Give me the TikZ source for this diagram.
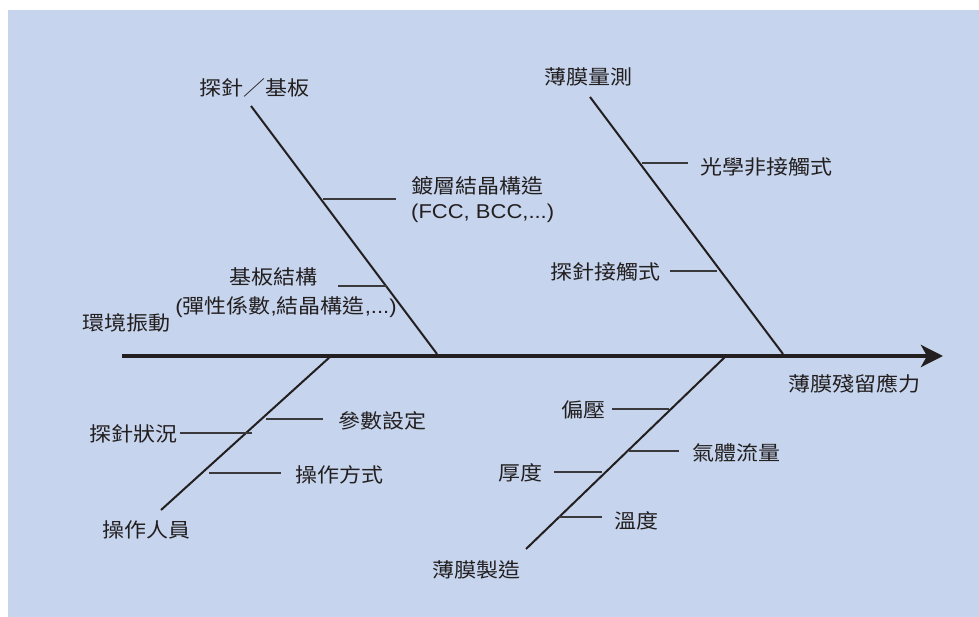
\documentclass[tikz,border=0pt]{standalone}
\usepackage{fontspec}
\newfontfamily\cjk[FakeStretch=1.1]{Noto Sans CJK TC}
\newfontfamily\latn[FakeStretch=1.1]{Liberation Sans}
\usetikzlibrary{arrows.meta}
\definecolor{bg}{HTML}{C6D5ED}
\definecolor{ink}{HTML}{231F20}
\definecolor{twig}{HTML}{3A3A3C}
\tikzset{
  lbl/.style={inner sep=0pt, text=ink, font=\cjk\fontsize{20}{27}\selectfont},
  bone/.style={draw=ink, line width=2pt},
  twigline/.style={draw=twig, line width=1.6pt},
  spine/.style={draw=ink, line width=4.5pt, -{Stealth[length=22pt,width=22pt,inset=6pt]}}
}
\begin{document}
\begin{tikzpicture}[x=1pt,y=-1pt]
\useasboundingbox (0,0) rectangle (979,617);
\fill[bg] (8,10) rectangle (979,617);

% spine
\coordinate (sp0) at (122,356);
\coordinate (sp1) at (943,356);
\draw[spine] (sp0) -- (sp1);
\node[lbl] (effect) at (854,384) {薄膜殘留應力};

% bone 1: probe / substrate
\node[lbl] (c1) at (254,88) {探針／基板};
\coordinate (b1a) at (251,106);
\coordinate (b1b) at (437,354);
\draw[bone] (b1a) -- (b1b);
\coordinate (s1a) at (323,199); \coordinate (s1b) at (396,199);
\draw[twigline] (s1a) -- (s1b);
\node[lbl, anchor=west] (t1a) at (411,186) {鍍層結晶構造};
\node[lbl, anchor=west, font=\latn\fontsize{20}{27}\selectfont] (t1b) at (411,213) {(FCC, BCC,...)};
\coordinate (s2a) at (338,286); \coordinate (s2b) at (387,286);
\draw[twigline] (s2a) -- (s2b);
\node[lbl] (t2a) at (273,277) {基板結構};
\node[lbl] (t2b) at (286,307) {{\latn(}彈性係數{\latn,}結晶構造{\latn,...)}};
\node[lbl] (t3) at (126,323) {環境振動};

% bone 2: film measurement
\node[lbl] (c2) at (588,77) {薄膜量測};
\coordinate (b2a) at (590,97);
\coordinate (b2b) at (783,354);
\draw[bone] (b2a) -- (b2b);
\coordinate (s3a) at (642,163); \coordinate (s3b) at (688,163);
\draw[twigline] (s3a) -- (s3b);
\node[lbl] (t4) at (766,167) {光學非接觸式};
\coordinate (s4a) at (670,271); \coordinate (s4b) at (717,271);
\draw[twigline] (s4a) -- (s4b);
\node[lbl] (t5) at (605,272) {探針接觸式};

% bone 3: operator
\node[lbl] (c3) at (146,530) {操作人員};
\coordinate (b3a) at (331,356);
\coordinate (b3b) at (161,510);
\draw[bone] (b3a) -- (b3b);
\coordinate (s5a) at (266,419); \coordinate (s5b) at (323,419);
\draw[twigline] (s5a) -- (s5b);
\node[lbl] (t6) at (382,421) {參數設定};
\coordinate (s6a) at (180,433); \coordinate (s6b) at (252,433);
\draw[twigline] (s6a) -- (s6b);
\node[lbl] (t7) at (133,434) {探針狀況};
\coordinate (s7a) at (209,473); \coordinate (s7b) at (281,473);
\draw[twigline] (s7a) -- (s7b);
\node[lbl] (t8) at (339,475) {操作方式};

% bone 4: film fabrication
\node[lbl] (c4) at (476,570) {薄膜製造};
\coordinate (b4a) at (726,356);
\coordinate (b4b) at (526,549);
\draw[bone] (b4a) -- (b4b);
\coordinate (s8a) at (612,409); \coordinate (s8b) at (669,409);
\draw[twigline] (s8a) -- (s8b);
\node[lbl] (t9) at (583,410) {偏壓};
\coordinate (s9a) at (629,451); \coordinate (s9b) at (679,451);
\draw[twigline] (s9a) -- (s9b);
\node[lbl] (t10) at (736,453) {氣體流量};
\coordinate (s10a) at (554,472); \coordinate (s10b) at (602,472);
\draw[twigline] (s10a) -- (s10b);
\node[lbl] (t11) at (520,473) {厚度};
\coordinate (s11a) at (559,517); \coordinate (s11b) at (602,517);
\draw[twigline] (s11a) -- (s11b);
\node[lbl] (t12) at (636,521) {溫度};
\end{tikzpicture}
\end{document}
